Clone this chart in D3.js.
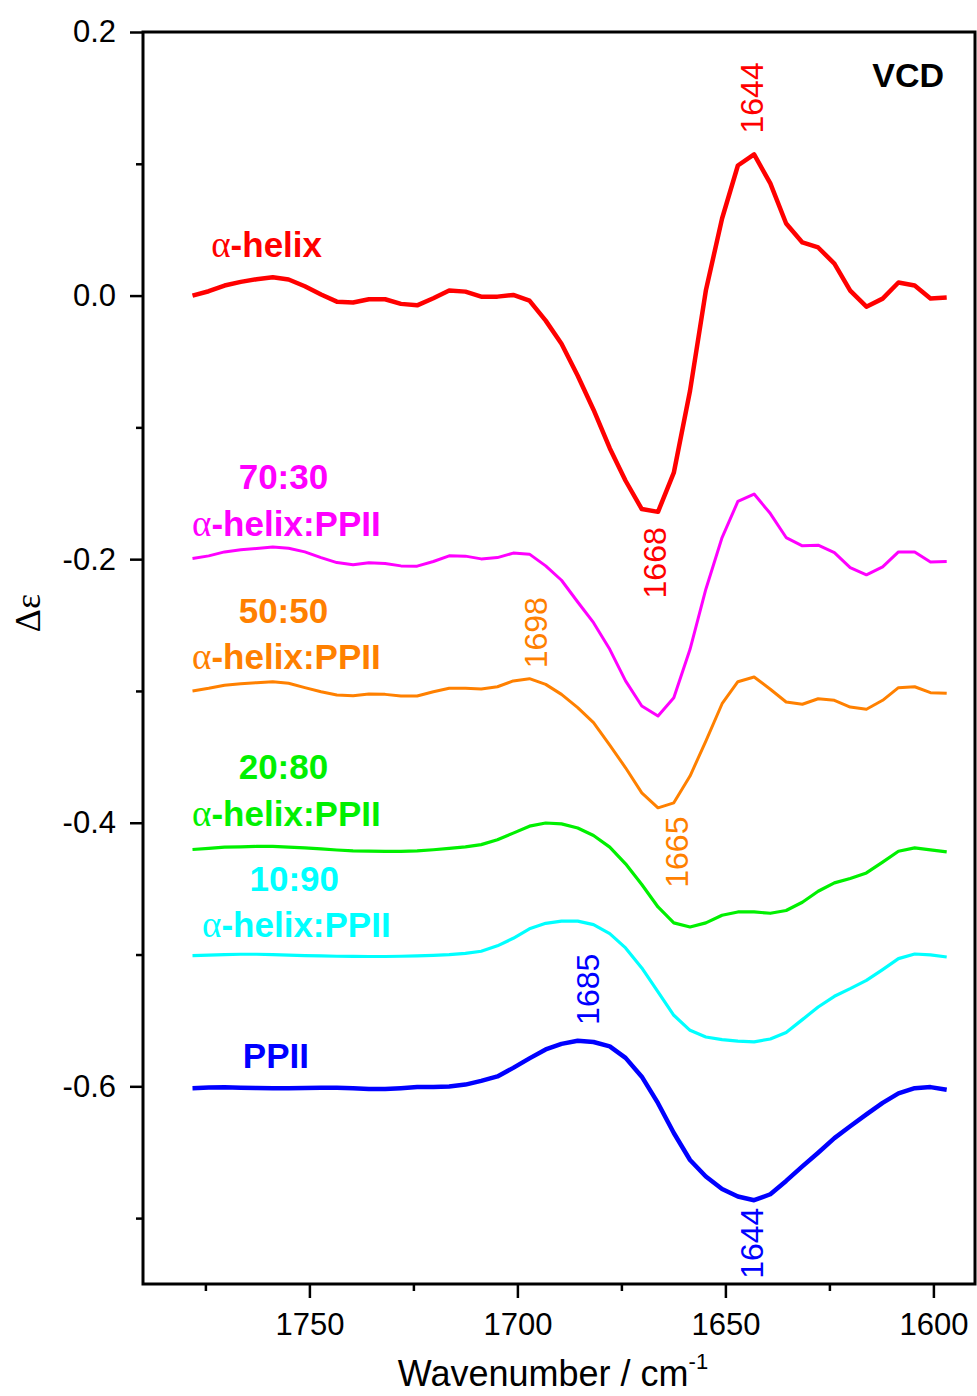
<!DOCTYPE html>
<html>
<head>
<meta charset="utf-8">
<script src="https://cdn.jsdelivr.net/npm/d3@7"></script>
<style>
  html, body { margin: 0; padding: 0; background: #fff; }
  svg { display: block; font-family: "Liberation Sans", Arial, sans-serif; }
</style>
</head>
<body>
<div id="chart"></div>
<script>
// Wavenumber grid (cm-1), shared by all spectra
const wavenumbers = [
  1778.1, 1774.2, 1770.4, 1766.5, 1762.7, 1758.8, 1755.0, 1751.1, 1747.2, 1743.4,
  1739.5, 1735.7, 1731.8, 1728.0, 1724.1, 1720.2, 1716.4, 1712.5, 1708.7, 1704.8,
  1701.0, 1697.1, 1693.2, 1689.4, 1685.5, 1681.7, 1677.8, 1674.0, 1670.1, 1666.2,
  1662.4, 1658.5, 1654.7, 1650.8, 1647.0, 1643.1, 1639.2, 1635.4, 1631.5, 1627.7,
  1623.8, 1620.0, 1616.1, 1612.2, 1608.4, 1604.5, 1600.7, 1596.8
];

// Δε, offset spectra as plotted
const alphaHelix = [
  0.0000, 0.0033, 0.0076, 0.0104, 0.0124, 0.0139, 0.0122, 0.0071, 0.0008, -0.0046,
  -0.0053, -0.0028, -0.0028, -0.0063, -0.0074, -0.0020, 0.0038, 0.0030, -0.0008, -0.0008,
  0.0005, -0.0038, -0.0190, -0.0365, -0.0608, -0.0866, -0.1158, -0.1405, -0.1620, -0.1641,
  -0.1344, -0.0722, 0.0038, 0.0585, 0.0987, 0.1071, 0.0851, 0.0547, 0.0403, 0.0365,
  0.0243, 0.0038, -0.0084, -0.0023, 0.0099, 0.0076, -0.0023, -0.0015
];
const mix7030 = [
  -0.1995, -0.1975, -0.1945, -0.1929, -0.1919, -0.1907, -0.1917, -0.1945, -0.1988, -0.2026,
  -0.2043, -0.2028, -0.2033, -0.2051, -0.2053, -0.2018, -0.1975, -0.1977, -0.1998, -0.1988,
  -0.1954, -0.1962, -0.2051, -0.2160, -0.2325, -0.2482, -0.2684, -0.2924, -0.3114, -0.3190,
  -0.3051, -0.2684, -0.2228, -0.1836, -0.1562, -0.1506, -0.1654, -0.1836, -0.1899, -0.1894,
  -0.1950, -0.2064, -0.2119, -0.2058, -0.1945, -0.1945, -0.2021, -0.2018
];
const mix5050 = [
  -0.3000, -0.2980, -0.2957, -0.2945, -0.2937, -0.2930, -0.2942, -0.2975, -0.3006, -0.3031,
  -0.3036, -0.3023, -0.3026, -0.3038, -0.3038, -0.3006, -0.2980, -0.2980, -0.2985, -0.2968,
  -0.2924, -0.2907, -0.2950, -0.3026, -0.3127, -0.3241, -0.3411, -0.3583, -0.3773, -0.3887,
  -0.3849, -0.3646, -0.3380, -0.3097, -0.2930, -0.2894, -0.2987, -0.3084, -0.3101, -0.3059,
  -0.3071, -0.3122, -0.3139, -0.3071, -0.2975, -0.2968, -0.3013, -0.3018
];
const mix2080 = [
  -0.4203, -0.4194, -0.4185, -0.4183, -0.4180, -0.4179, -0.4185, -0.4191, -0.4199, -0.4207,
  -0.4214, -0.4216, -0.4218, -0.4218, -0.4213, -0.4205, -0.4195, -0.4183, -0.4166, -0.4129,
  -0.4079, -0.4026, -0.4002, -0.4009, -0.4040, -0.4097, -0.4185, -0.4312, -0.4469, -0.4639,
  -0.4760, -0.4791, -0.4760, -0.4702, -0.4677, -0.4677, -0.4687, -0.4666, -0.4603, -0.4520,
  -0.4456, -0.4423, -0.4381, -0.4299, -0.4216, -0.4191, -0.4206, -0.4221
];
const mix1090 = [
  -0.5008, -0.5004, -0.5000, -0.4998, -0.4998, -0.5001, -0.5004, -0.5008, -0.5010, -0.5013,
  -0.5014, -0.5015, -0.5015, -0.5013, -0.5010, -0.5006, -0.5001, -0.4991, -0.4975, -0.4934,
  -0.4877, -0.4805, -0.4763, -0.4747, -0.4747, -0.4773, -0.4841, -0.4950, -0.5102, -0.5284,
  -0.5461, -0.5575, -0.5626, -0.5646, -0.5657, -0.5663, -0.5641, -0.5591, -0.5494, -0.5398,
  -0.5317, -0.5259, -0.5196, -0.5114, -0.5031, -0.4996, -0.5003, -0.5019
];
const ppii = [
  -0.6014, -0.6009, -0.6007, -0.6010, -0.6013, -0.6014, -0.6014, -0.6013, -0.6011, -0.6010,
  -0.6014, -0.6021, -0.6020, -0.6014, -0.6006, -0.6005, -0.6001, -0.5987, -0.5959, -0.5925,
  -0.5860, -0.5788, -0.5720, -0.5678, -0.5654, -0.5664, -0.5697, -0.5784, -0.5927, -0.6128,
  -0.6354, -0.6559, -0.6684, -0.6779, -0.6836, -0.6864, -0.6819, -0.6718, -0.6608, -0.6504,
  -0.6393, -0.6303, -0.6213, -0.6126, -0.6054, -0.6014, -0.6006, -0.6026
];

const seriesValues = [alphaHelix, mix7030, mix5050, mix2080, mix1090, ppii];
const seriesColors = ['#ff0000', '#ff00ff', '#ff8000', '#00f000', '#00ffff', '#0000ff'];
const seriesWidths = [4.5, 3, 3, 3.2, 3.2, 4.5];

// series labels (anchored in data coordinates)
const labelText   = ['α-helix', '70:30', 'α-helix:PPII', '50:50', 'α-helix:PPII', '20:80', 'α-helix:PPII', '10:90', 'α-helix:PPII', 'PPII'];
const labelSeries = [0, 1, 1, 2, 2, 3, 3, 4, 4, 5];
const labelWn     = [1773.6, 1767.0, 1778.2, 1767.0, 1778.2, 1767.0, 1778.2, 1764.4, 1775.8, 1766.0];
const labelDe     = [0.0291, -0.1468, -0.1823, -0.2482, -0.2836, -0.3671, -0.4026, -0.4520, -0.4869, -0.5862];

// band positions (rotated labels)
const peakText   = ['1644', '1668', '1698', '1665', '1685', '1644'];
const peakSeries = [0, 0, 2, 2, 5, 5];
const peakWn     = [1640.9, 1664.2, 1693.0, 1658.9, 1680.5, 1641.0];
const peakDe     = [0.150, -0.2028, -0.2558, -0.4223, -0.5264, -0.7191];

const xMajor = [1750, 1700, 1650, 1600];
const xMinor = [1775, 1725, 1675, 1625];
const yMajor = [0.2, 0.0, -0.2, -0.4, -0.6];
const yMinor = [0.1, -0.1, -0.3, -0.5, -0.7];

const width = 977, height = 1396;
const margin = { top: 32, right: 2, bottom: 112, left: 143 };

const svg = d3.select('#chart').append('svg')
    .attr('width', width)
    .attr('height', height);

const x = d3.scaleLinear().domain([1790, 1590]).range([margin.left, width - margin.right]);
const y = d3.scaleLinear().domain([-0.75, 0.2]).range([height - margin.bottom, margin.top]);

function styleAxis(g) {
    g.select('.domain').remove();
    g.selectAll('.tick line').attr('stroke', '#000').attr('stroke-width', 2.5);
    g.selectAll('.tick text').attr('fill', '#000').style('font-size', '31px')
        .style('font-family', '"Liberation Sans", Arial, sans-serif');
}

// x axis
svg.append('g')
    .attr('transform', `translate(0,${y.range()[0]})`)
    .call(d3.axisBottom(x).tickValues(xMajor).tickSize(14).tickPadding(15).tickFormat(d3.format('d')))
    .call(styleAxis);
svg.append('g')
    .attr('transform', `translate(0,${y.range()[0]})`)
    .call(d3.axisBottom(x).tickValues(xMinor).tickSize(7).tickFormat(''))
    .call(styleAxis);

// y axis
svg.append('g')
    .attr('transform', `translate(${x.range()[0]},0)`)
    .call(d3.axisLeft(y).tickValues(yMajor).tickSize(13).tickPadding(14).tickFormat(d => d.toFixed(1)))
    .call(styleAxis);
svg.append('g')
    .attr('transform', `translate(${x.range()[0]},0)`)
    .call(d3.axisLeft(y).tickValues(yMinor).tickSize(7).tickFormat(''))
    .call(styleAxis);

// frame
svg.append('rect')
    .attr('x', x.range()[0])
    .attr('y', y.range()[1])
    .attr('width', x.range()[1] - x.range()[0])
    .attr('height', y.range()[0] - y.range()[1])
    .attr('fill', 'none')
    .attr('stroke', '#000')
    .attr('stroke-width', 3);

// spectra
const line = d3.line()
    .x((d, i) => x(wavenumbers[i]))
    .y(d => y(d));

svg.append('g').selectAll('path')
    .data(seriesValues)
    .join('path')
    .attr('d', line)
    .attr('fill', 'none')
    .attr('stroke', (d, i) => seriesColors[i])
    .attr('stroke-width', (d, i) => seriesWidths[i])
    .attr('stroke-linejoin', 'round');

// series labels
const labels = svg.append('g').selectAll('text')
    .data(labelText)
    .join('text')
    .attr('x', (d, i) => x(labelWn[i]))
    .attr('y', (d, i) => y(labelDe[i]))
    .attr('fill', (d, i) => seriesColors[labelSeries[i]])
    .style('font-size', '35px')
    .style('font-weight', 'bold');

labels.each(function(d) {
    const t = d3.select(this);
    if (d.startsWith('α')) {
        t.append('tspan')
            .style('font-family', '"Liberation Serif", "DejaVu Serif", serif')
            .style('font-weight', 'normal')
            .style('font-size', '37px')
            .text('α');
        t.append('tspan').text(d.slice(1));
    } else {
        t.text(d);
    }
});

// band positions
svg.append('g').selectAll('text')
    .data(peakText)
    .join('text')
    .attr('transform', (d, i) => `translate(${x(peakWn[i])},${y(peakDe[i])}) rotate(-90)`)
    .attr('text-anchor', 'middle')
    .attr('fill', (d, i) => seriesColors[peakSeries[i]])
    .style('font-size', '32px')
    .text(d => d);

// VCD tag
svg.append('text')
    .attr('x', x.range()[1] - 31)
    .attr('y', y.range()[1] + 55)
    .attr('text-anchor', 'end')
    .style('font-size', '34px')
    .style('font-weight', 'bold')
    .text('VCD');

// axis titles
const xTitle = svg.append('text')
    .attr('x', 553)
    .attr('y', 1386)
    .attr('text-anchor', 'middle')
    .style('font-size', '36px');
xTitle.append('tspan').text('Wavenumber / cm');
xTitle.append('tspan').attr('dy', -17).style('font-size', '22px').text('-1');

svg.append('text')
    .attr('transform', 'translate(40,613) rotate(-90)')
    .attr('text-anchor', 'middle')
    .style('font-size', '36px')
    .style('font-family', '"Liberation Serif", "DejaVu Serif", serif')
    .text('Δε');
</script>
</body>
</html>
